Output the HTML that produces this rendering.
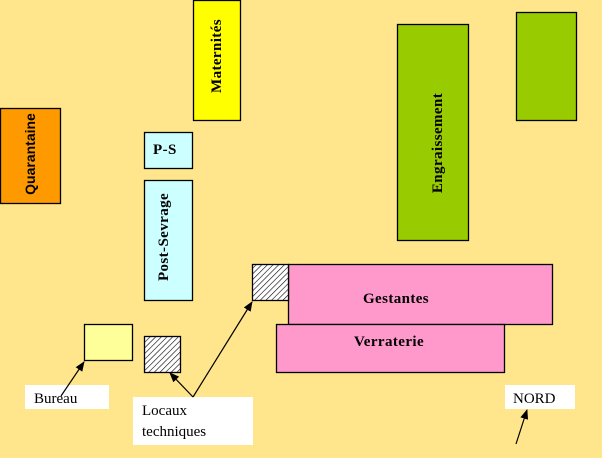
<!DOCTYPE html>
<html><head><meta charset="utf-8"><style>
html,body{margin:0;padding:0;background:#ffe68c;}
svg{display:block;}
.s{font-family:"Liberation Serif",serif;font-weight:bold;font-size:15px;letter-spacing:0.4px;fill:#000;}
.a{font-family:"Liberation Sans",sans-serif;font-weight:bold;font-size:14px;fill:#000;}
.n{font-family:"Liberation Serif",serif;font-size:15px;fill:#000;}
</style></head><body>
<svg width="602" height="458" viewBox="0 0 602 458" xmlns="http://www.w3.org/2000/svg">
<defs>
<pattern id="h" width="4" height="4" patternUnits="userSpaceOnUse" patternTransform="rotate(45)">
<rect width="4" height="4" fill="#fff"/><line x1="0" y1="0" x2="0" y2="4" stroke="#000" stroke-width="1.2"/>
</pattern>
<marker id="ar" markerWidth="10" markerHeight="8" refX="9" refY="4" orient="auto" markerUnits="userSpaceOnUse">
<path d="M0,0 L10,4 L0,8 Z" fill="#000"/>
</marker>
</defs>
<rect width="602" height="458" fill="#ffe68c"/>
<g stroke="#000" stroke-width="1.3">
<rect x="193.5" y="0.5" width="47" height="120" fill="#ffff00"/>
<rect x="0.5" y="108.5" width="60" height="95" fill="#ff9900"/>
<rect x="144.5" y="132.5" width="48" height="36" fill="#ccffff"/>
<rect x="144.5" y="180.5" width="48" height="120" fill="#ccffff"/>
<rect x="397.5" y="24.5" width="71" height="216" fill="#99cc00"/>
<rect x="516.5" y="12.5" width="60" height="108" fill="#99cc00"/>
<rect x="288.5" y="264.5" width="264" height="60" fill="#ff99cc"/>
<rect x="276.5" y="324.5" width="228" height="48" fill="#ff99cc"/>
<rect x="252.5" y="264.5" width="36" height="36" fill="url(#h)"/>
<rect x="84.5" y="324.5" width="48" height="36" fill="#ffff99"/>
<rect x="144.5" y="336.5" width="36" height="36" fill="url(#h)"/>
</g>
<rect x="25" y="385" width="84" height="24" fill="#fff"/>
<rect x="133" y="397" width="120" height="48" fill="#fff"/>
<rect x="505" y="385" width="70" height="24" fill="#fff"/>
<text class="s" transform="translate(221,56) rotate(-90)" text-anchor="middle">Maternités</text>
<text class="a" transform="translate(35,154) rotate(-90)" text-anchor="middle">Quarantaine</text>
<text class="s" transform="translate(168,237) rotate(-90)" text-anchor="middle">Post-Sevrage</text>
<text class="s" transform="translate(442,143) rotate(-90)" text-anchor="middle">Engraissement</text>
<text class="s" x="153" y="154">P-S</text>
<text class="s" x="396" y="303" text-anchor="middle">Gestantes</text>
<text class="s" x="389" y="346" text-anchor="middle">Verraterie</text>
<text class="n" x="34" y="403">Bureau</text>
<text class="n" x="142" y="415">Locaux</text>
<text class="n" x="142" y="436">techniques</text>
<text class="n" x="513" y="403">NORD</text>
<g stroke="#000" stroke-width="1.2" fill="none">
<line x1="61" y1="396" x2="84" y2="362" marker-end="url(#ar)"/>
<line x1="193" y1="397" x2="170" y2="373" marker-end="url(#ar)"/>
<line x1="193" y1="397" x2="252" y2="302" marker-end="url(#ar)"/>
<line x1="516" y1="444" x2="527" y2="410" marker-end="url(#ar)"/>
</g>
</svg>
</body></html>
